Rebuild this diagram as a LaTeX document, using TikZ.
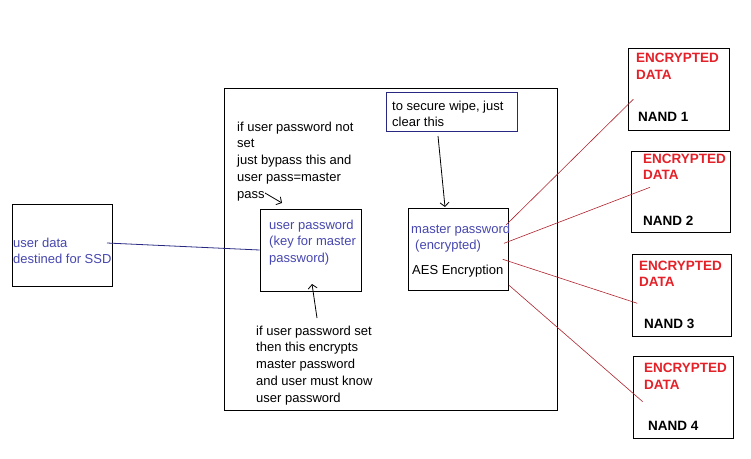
\documentclass[tikz,border=0pt]{standalone}
\usepackage{fontspec}
\setmainfont{Liberation Sans}
\usetikzlibrary{arrows.meta}
\definecolor{bluetxt}{RGB}{70,70,175}
\definecolor{navyline}{RGB}{40,40,130}
\definecolor{redtxt}{RGB}{228,32,40}
\definecolor{redline}{RGB}{175,35,45}

\begin{document}
\begin{tikzpicture}[x=1pt,y=-1pt,
	font=\fontsize{13}{16.8}\selectfont,
	box/.style={draw,line width=0.9pt,inner sep=0},
	txt/.style={inner sep=0,anchor=base west,align=left},
	enc/.style={txt,text=redtxt,font=\fontsize{13.5}{16.7}\selectfont\bfseries},
	nand/.style={txt,font=\fontsize{13.5}{16.7}\selectfont\bfseries},
	wire/.style={redline,line width=0.6pt},
	pointer/.style={-{Straight Barb[length=4pt,width=9pt]},line width=0.8pt}]
	\useasboundingbox (0,0) rectangle (751,458);

	% boxes
	\node[box,minimum width=100,minimum height=82] (data) at (62,245) {};
	\node[box,minimum width=333,minimum height=322] (ssd) at (390.5,249) {};
	\node[box,minimum width=101,minimum height=82] (userpw) at (310.5,250) {};
	\node[box,minimum width=100,minimum height=82] (master) at (458,249) {};
	\node[box,draw=navyline,minimum width=131,minimum height=39] (wipe) at (451.5,111.5) {};

	% nand boxes
	\node[box,minimum width=101,minimum height=82] (nand1) at (678.5,89) {};
	\node[box,minimum width=99,minimum height=81] (nand2) at (680.5,191.5) {};
	\node[box,minimum width=99,minimum height=82] (nand3) at (681.5,295) {};
	\node[box,minimum width=100,minimum height=82] (nand4) at (683,397) {};

	% texts (placed at the baseline of their last line)
	\node[txt,text=bluetxt] (datatxt) at (13,263.8) {user data\\destined for SSD};
	\node[txt] (bypass) at (237,198.2) {if user password not\\set\\just bypass this and\\user pass=master\\pass};
	\node[txt] (encnote) at (256,402.2) {if user password set\\then this encrypts\\master password\\and user must know\\user password};
	\node[txt,text=bluetxt] (pwtxt) at (269,262.6) {user password\\(key for master\\password)};
	\node[txt,text=bluetxt] (mastertxt) at (411,249.8) {master password\\\hspace{4pt}(encrypted)};
	\node[txt] (aes) at (412,274) {AES Encryption};
	\node[txt] (wipetxt) at (392,126.8) {to secure wipe, just\\clear this};

	\node[enc] (enc1) at (636,79.4) {ENCRYPTED\\DATA};
	\node[nand] (lbl1) at (638,121.7) {NAND 1};
	\node[enc] (enc2) at (643,179.7) {ENCRYPTED\\DATA};
	\node[nand] (lbl2) at (643,225) {NAND 2};
	\node[enc] (enc3) at (639,286.7) {ENCRYPTED\\DATA};
	\node[nand] (lbl3) at (644,328.3) {NAND 3};
	\node[enc] (enc4) at (644,389.4) {ENCRYPTED\\DATA};
	\node[nand] (lbl4) at (648,430.7) {NAND 4};

	% free ends
	\coordinate (d0) at (107,243);
	\coordinate (p0) at (265,193);
	\coordinate (p1) at (282,203);
	\coordinate (k0) at (317,318);
	\coordinate (k1) at (312,284);
	\coordinate (w0) at (438,136);
	\coordinate (w1) at (445,207);
	\coordinate (m1) at (506,225);
	\coordinate (m2) at (504,243.3);
	\coordinate (m3) at (502.7,259.3);
	\coordinate (m4) at (508.7,285);
	\coordinate (n1) at (633.3,99.3);
	\coordinate (n2) at (650,187.3);
	\coordinate (n3) at (637.3,303.3);
	\coordinate (n4) at (642.7,401.7);

	% connectors
	\draw[navyline,line width=0.8pt] (d0) -- (userpw.west);
	\draw[pointer] (p0) -- (p1);
	\draw[pointer] (k0) -- (k1);
	\draw[pointer] (w0) -- (w1);
	\draw[wire] (m1) -- (n1);
	\draw[wire] (m2) -- (n2);
	\draw[wire] (m3) -- (n3);
	\draw[wire] (m4) -- (n4);
\end{tikzpicture}
\end{document}
